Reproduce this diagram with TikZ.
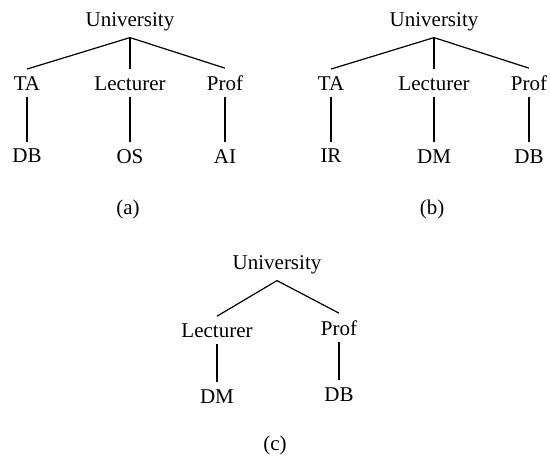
\documentclass[tikz,border=0pt]{standalone}
\usepackage{fontspec}
\setmainfont{Liberation Serif}
\usetikzlibrary{positioning}

\begin{document}
\begin{tikzpicture}[
    x=0.5pt, y=-0.5pt,
    node distance=19pt,
    word/.style={font=\fontsize{10.5}{12}\selectfont, anchor=base},
    branch/.style={line width=0.6pt}
]
\useasboundingbox (0,0) rectangle (550,456);

% tree (a)
\node[word] (uniA) at (130,26) {University};
\node[word] (taA) at (27,90) {TA};
\node[word] (lecA) at (130,90) {Lecturer};
\node[word] (profA) at (225,90) {Prof};
\node[word, below=22.5pt of taA] (dbA) {DB};
\node[word, below=22.5pt of lecA] (osA) {OS};
\node[word, below=22.5pt of profA] (aiA) {AI};
\node[word] (capA) at (128,214) {(a)};

\draw[branch] (uniA.south) -- (taA.north);
\draw[branch] (uniA.south) -- (lecA.north);
\draw[branch] (uniA.south) -- (profA.north);
\draw[branch] (taA.south) -- (dbA.north);
\draw[branch] (lecA.south) -- (osA.north);
\draw[branch] (profA.south) -- (aiA.north);

% tree (b)
\node[word] (uniB) at (434,26) {University};
\node[word] (taB) at (331,90) {TA};
\node[word] (lecB) at (434,90) {Lecturer};
\node[word] (profB) at (529,90) {Prof};
\node[word, below=22.5pt of taB] (irB) {IR};
\node[word, below=22.5pt of lecB] (dmB) {DM};
\node[word, below=22.5pt of profB] (dbB) {DB};
\node[word] (capB) at (432,214) {(b)};

\draw[branch] (uniB.south) -- (taB.north);
\draw[branch] (uniB.south) -- (lecB.north);
\draw[branch] (uniB.south) -- (profB.north);
\draw[branch] (taB.south) -- (irB.north);
\draw[branch] (lecB.south) -- (dmB.north);
\draw[branch] (profB.south) -- (dbB.north);

% tree (c)
\node[word] (uniC) at (277,269) {University};
\node[word] (lecC) at (217,337) {Lecturer};
\node[word] (profC) at (339,335) {Prof};
\node[word, below=of lecC] (dmC) {DM};
\node[word, below=of profC] (dbC) {DB};
\node[word] (capC) at (275,450) {(c)};

\draw[branch] (uniC.south) -- (lecC.north);
\draw[branch] (uniC.south) -- (profC.north);
\draw[branch] (lecC.south) -- (dmC.north);
\draw[branch] (profC.south) -- (dbC.north);

\end{tikzpicture}
\end{document}
